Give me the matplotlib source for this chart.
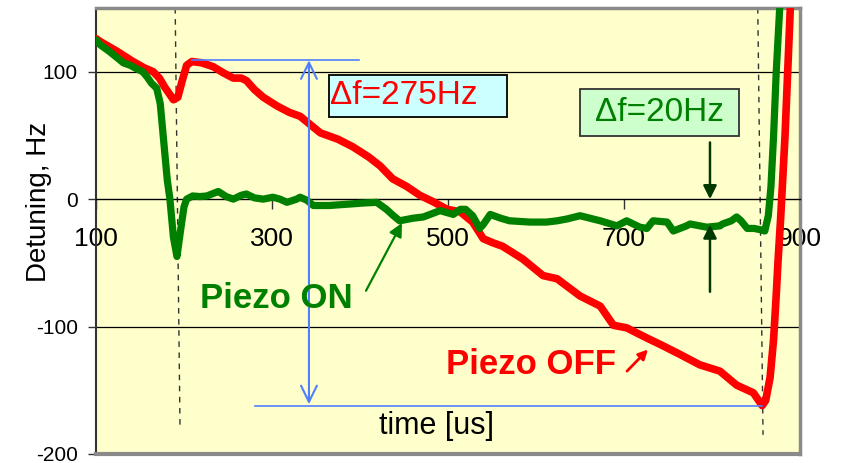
import matplotlib
matplotlib.use("Agg")
import matplotlib.pyplot as plt
from matplotlib.patches import Rectangle

plt.rcParams['font.family'] = ['Liberation Sans', 'DejaVu Sans']

# Piezo OFF (red)
off_t = [100, 104, 124, 142, 155, 165, 172, 178, 184, 188, 193, 198, 203, 209, 220,
         233, 245, 256, 265, 271, 280, 290, 306, 320, 332, 355, 375, 392, 410, 423,
         437, 453, 468, 483, 499, 514, 528, 540, 550, 562, 585, 608, 624, 650, 673,
         688, 703, 726, 744, 764, 786, 809, 828, 847, 857, 861, 866, 870, 873, 875,
         878, 883, 889]
off_df = [126, 124, 116, 108, 103, 100, 95, 88, 82, 78, 80, 93, 105, 108, 107,
          104, 99, 95, 95, 93, 86, 80, 73, 68, 65, 52, 47, 41, 33, 26,
          16, 10, 3, -2, -8, -10, -18, -31, -34, -37, -47, -60, -62.5, -76, -84,
          -99, -101, -109, -115, -122, -130, -135, -146, -152, -162, -158, -140, -110, -75, -49,
          -15, 50, 150]

# Piezo ON (green)
on_t = [100, 105, 115, 124, 131, 139, 147, 153, 158, 163, 169, 173, 177, 181, 184,
        188, 192, 196, 200, 203, 210, 218, 226, 239, 248, 256, 265, 271, 280, 290,
        301, 309, 317, 328, 332, 340, 347, 365, 385, 405, 419, 430, 438, 445, 460,
        472, 491, 506, 514, 520, 528, 536, 540, 548, 560, 570, 593, 612, 624, 635,
        650, 673, 692, 703, 718, 726, 733, 749, 756, 771, 775, 794, 809, 812, 822,
        828, 833, 840, 848, 855, 860, 864, 867, 870, 873, 877]
on_df = [125, 121, 116, 111, 107, 105, 102, 100, 96, 91, 87, 75, 45, 15, 0,
         -30, -45, -25, -6, 0, 2.5, 2, 2.5, 6, 2, 0, 3, 4, 1, 0,
         1.5, 0, -2.5, 0, 1.5, -1, -5, -5, -4, -3, -2.5, -8, -13, -17, -15,
         -14, -9, -12, -8, -8, -13, -23, -20, -12, -15, -17, -18, -18, -17, -15.6,
         -13, -17, -21, -17, -22, -23, -17, -18, -25, -21, -19.5, -22, -21, -19.5, -17,
         -14, -17, -23, -23, -24, -25, -13, 10, 50, 100, 151]

xticks = [100, 300, 500, 700, 900]
yticks = [-200, -100, 0, 100]

fig = plt.figure(figsize=(8.48, 4.63), dpi=100)
ax = fig.add_axes([0.1132, 0.0195, 0.8302, 0.9632])
ax.set_facecolor('#FFFFCC')
ax.set_xlim(100, 900)
ax.set_ylim(-200, 150)

# frame
ax.spines['bottom'].set_position(('data', 0))
ax.spines['bottom'].set_color('black')
ax.spines['bottom'].set_linewidth(1)
ax.spines['left'].set_color('#333333')
ax.spines['left'].set_linewidth(1.5)
for s in ['top', 'right']:
    ax.spines[s].set_color('#8a8a8a')
    ax.spines[s].set_linewidth(2.5)
ax.plot([0, 1], [0, 0], transform=ax.transAxes, color='#8a8a8a', lw=3, clip_on=False, zorder=6)

ax.set_xticks(xticks)
ax.set_xticklabels([str(v) for v in xticks], fontsize=19)
ax.set_yticks(yticks)
ax.set_yticklabels([str(v) for v in yticks], fontsize=15)
ax.tick_params(axis='x', direction='out', length=7, width=1, pad=13, color='#333333')
ax.tick_params(axis='y', direction='out', length=6, width=1, pad=7, color='#333333')
for v in [-100, 100]:
    ax.axhline(v, color='black', lw=0.9, zorder=1)

ax.set_ylabel('Detuning, Hz', fontsize=20)
ax.yaxis.set_label_coords(-0.0625, 0.566)
ax.set_xlabel('time [us]', fontsize=22)
ax.xaxis.set_label_coords(0.483, 0.096)

# dashed markers
ax.plot([190, 195.5], [150, -181], ls=(0, (4, 4)), color='#333333', lw=1, zorder=2)
ax.plot([852, 858], [150, -185], ls=(0, (4, 4)), color='#333333', lw=1, zorder=2)

# curves
ax.plot(off_t, off_df, color='#FF0000', lw=5.5, solid_capstyle='round',
        solid_joinstyle='round', zorder=3)
ax.plot(on_t, on_df, color='#008000', lw=5.2, solid_capstyle='round',
        solid_joinstyle='round', zorder=4)

# blue span markers
blue = '#4F7FFF'
ax.plot([209, 399], [109.4, 109.4], color=blue, lw=1.2, zorder=5)
ax.plot([281, 857], [-162.5, -162.5], color=blue, lw=1.2, zorder=5)
ax.annotate('', xy=(342, 109), xytext=(342, -161),
            arrowprops=dict(arrowstyle='<->, head_length=0.45, head_width=0.22',
                            color=blue, lw=1.5, mutation_scale=26,
                            shrinkA=0, shrinkB=0), zorder=5)

# delta f boxes
ax.add_patch(Rectangle((364.8, 64.8), 202, 32.8, facecolor='#CCFFFF',
                       edgecolor='black', lw=1.3, zorder=6))
ax.text(366, 81, '\u0394f=275Hz', color='#FF0000', fontsize=24,
        ha='left', va='center', zorder=7)
ax.add_patch(Rectangle((650, 49.2), 180.7, 37.5, facecolor='#CCFFCC',
                       edgecolor='#333333', lw=1.3, zorder=6))
ax.text(740, 68, '\u0394f=20Hz', color='#008000', fontsize=24,
        ha='center', va='center', zorder=7)

# 20 Hz arrows
dk = '#003A00'
ax.annotate('', xy=(797.7, 0), xytext=(797.7, 44.5),
            arrowprops=dict(arrowstyle='-|>', color=dk, lw=1.8, mutation_scale=20,
                            shrinkA=0, shrinkB=0), zorder=6)
ax.annotate('', xy=(797.7, -20), xytext=(797.7, -72.7),
            arrowprops=dict(arrowstyle='-|>', color=dk, lw=1.8, mutation_scale=20,
                            shrinkA=0, shrinkB=0), zorder=6)

# labels
ax.text(218, -78, 'Piezo ON', color='#008000', fontsize=25, fontweight='bold',
        ha='left', va='center', zorder=7)
ax.annotate('', xy=(447.7, -18.7), xytext=(406.8, -71.9),
            arrowprops=dict(arrowstyle='-|>', color='#008000', lw=1.6, mutation_scale=20,
                            shrinkA=0, shrinkB=0), zorder=6)
ax.text(497.7, -130, 'Piezo OFF', color='#FF0000', fontsize=25, fontweight='bold',
        ha='left', va='center', zorder=7)
ax.annotate('', xy=(727.3, -118), xytext=(703.4, -135),
            arrowprops=dict(arrowstyle='-|>', color='#FF0000', lw=2, mutation_scale=14,
                            shrinkA=0, shrinkB=0), zorder=6)

fig.savefig('out.png', dpi=100, facecolor='white')
